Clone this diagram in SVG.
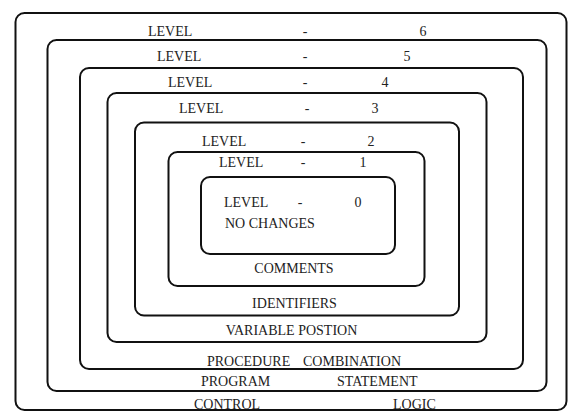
<svg xmlns="http://www.w3.org/2000/svg" width="568" height="412" viewBox="0 0 568 412">
<style>
rect.b{fill:none;stroke:#111;stroke-width:2}
text{font-family:"Liberation Serif","Times New Roman",serif;font-size:14px;fill:#222}
.m{text-anchor:middle}
</style>
<rect width="568" height="412" fill="#fff"/>
<g id="level6">
<rect class="b" x="15.5" y="13" width="551" height="397" rx="9"/>
<text x="148" y="36">LEVEL</text><text class="m" x="305" y="36">-</text><text class="m" x="423" y="36">6</text>
<text x="194" y="409">CONTROL</text><text x="393" y="409">LOGIC</text>
</g>
<g id="level5">
<rect class="b" x="47.5" y="40" width="499" height="351" rx="9"/>
<text x="157" y="61">LEVEL</text><text class="m" x="305" y="61">-</text><text class="m" x="407" y="61">5</text>
<text x="201" y="386">PROGRAM</text><text x="337" y="386">STATEMENT</text>
</g>
<g id="level4">
<rect class="b" x="80" y="68" width="443" height="301" rx="9"/>
<text x="168" y="87">LEVEL</text><text class="m" x="305" y="87">-</text><text class="m" x="385" y="87">4</text>
<text x="207" y="366">PROCEDURE</text><text x="303" y="366">COMBINATION</text>
</g>
<g id="level3">
<rect class="b" x="107.5" y="93" width="379" height="249" rx="9"/>
<text x="179" y="113">LEVEL</text><text class="m" x="307" y="113">-</text><text class="m" x="375" y="113">3</text>
<text class="m" x="291.5" y="335">VARIABLE POSTION</text>
</g>
<g id="level2">
<rect class="b" x="135" y="122.5" width="324" height="193" rx="9"/>
<text x="202" y="146">LEVEL</text><text class="m" x="303" y="146">-</text><text class="m" x="371" y="146">2</text>
<text class="m" x="294.5" y="307.5">IDENTIFIERS</text>
</g>
<g id="level1">
<rect class="b" x="168.5" y="152" width="256" height="134" rx="9"/>
<text x="219" y="167">LEVEL</text><text class="m" x="303" y="167">-</text><text class="m" x="363" y="167">1</text>
<text class="m" x="294" y="273">COMMENTS</text>
</g>
<g id="level0">
<rect class="b" x="201" y="177" width="194" height="77" rx="9"/>
<text x="224" y="206.5">LEVEL</text><text class="m" x="300" y="206.5">-</text><text class="m" x="358" y="206.5">0</text>
<text x="225" y="228">NO CHANGES</text>
</g>
<g id="connectors"/>
</svg>
